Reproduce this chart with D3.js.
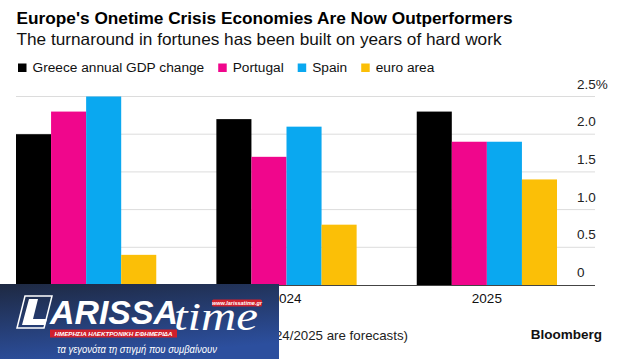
<!DOCTYPE html>
<html><head><meta charset="utf-8">
<script src="https://cdn.jsdelivr.net/npm/d3@7"></script>
<style>
html,body{margin:0;padding:0;background:#fff;}
svg{display:block;font-family:"Liberation Sans",Arial,sans-serif;}
</style></head>
<body>
<svg id="chart" width="622" height="359"></svg>
<script>
const categories = ["2023", "2024", "2025"];
const seriesNames = ["Greece annual GDP change", "Portugal", "Spain", "euro area"];
const greece = [2.0, 2.2, 2.3];
const portugal = [2.3, 1.7, 1.9];
const spain = [2.5, 2.1, 1.9];
const euroArea = [0.4, 0.8, 1.4];
const seriesValues = [greece, portugal, spain, euroArea];
const colors = ["#000000", "#f0068c", "#0aa8f0", "#fbbf07"];
const yTicks = [0, 0.5, 1.0, 1.5, 2.0, 2.5];
const yTickLabels = ["0", "0.5", "1.0", "1.5", "2.0", "2.5%"];
const titleText = "Europe's Onetime Crisis Economies Are Now Outperformers";
const subtitleText = "The turnaround in fortunes has been built on years of hard work";
const sourceText = "Source: European Commission (2024/2025 are forecasts)";

const svg = d3.select("#chart");

// Title & subtitle
svg.append("text").attr("x", 16.5).attr("y", 24)
  .attr("font-size", 17).attr("font-weight", "bold").attr("fill", "#000")
  .attr("textLength", 496).attr("lengthAdjust", "spacingAndGlyphs")
  .text(titleText);
svg.append("text").attr("x", 16.5).attr("y", 44.5)
  .attr("font-size", 16.5).attr("fill", "#111")
  .attr("textLength", 485).attr("lengthAdjust", "spacingAndGlyphs")
  .text(subtitleText);

// Legend
let lx = 18;
const legend = svg.append("g");
seriesNames.forEach((name, i) => {
  legend.append("rect").attr("x", lx).attr("y", 63.5).attr("width", 8.5).attr("height", 8.5).attr("fill", colors[i]);
  const t = legend.append("text").attr("x", lx + 14.5).attr("y", 72)
    .attr("font-size", 13.7).attr("fill", "#111").text(name);
  lx += 14.5 + t.node().getComputedTextLength() + 14;
});

// Scales
const y = d3.scaleLinear().domain([0, 2.5]).range([285, 96.5]);
const x0 = d3.scaleBand().domain(categories).range([16, 557]).paddingInner(0.3).paddingOuter(0);
const x1 = d3.scaleBand().domain(d3.range(seriesNames.length)).range([0, x0.bandwidth()]).padding(0);

// Gridlines
const grid = svg.append("g");
yTicks.forEach(v => {
  if (v === 0) return;
  grid.append("line").attr("x1", 16).attr("x2", 595).attr("y1", y(v)).attr("y2", y(v))
    .attr("stroke", "#dcdcdc").attr("stroke-width", 1);
});

// Y labels
const yAxis = d3.axisRight(y).tickValues(yTicks).tickSize(0).tickFormat((d, i) => yTickLabels[i]);
const yg = svg.append("g").attr("transform", "translate(577,0)").call(yAxis);
yg.select(".domain").remove();
yg.selectAll("text").attr("x", 0).attr("dy", "-0.62em").attr("text-anchor", "start")
  .attr("font-size", 13.5).attr("font-family", "Liberation Sans, Arial, sans-serif").attr("fill", "#222");

// Bars
const groups = svg.append("g").selectAll("g").data(categories).join("g")
  .attr("transform", d => `translate(${x0(d)},0)`);
groups.selectAll("rect").data((d, ci) => seriesValues.map((s, si) => ({si, v: s[ci]}))).join("rect")
  .attr("x", d => x1(d.si)).attr("width", x1.bandwidth())
  .attr("y", d => y(d.v)).attr("height", d => y(0) - y(d.v))
  .attr("fill", d => colors[d.si]);

// Baseline
svg.append("line").attr("x1", 16).attr("x2", 595).attr("y1", y(0) + 0.5).attr("y2", y(0) + 0.5)
  .attr("stroke", "#444").attr("stroke-width", 1);

// X axis labels
const xAxis = d3.axisBottom(x0).tickSize(0);
const xg = svg.append("g").attr("transform", `translate(0,${y(0)})`).call(xAxis);
xg.select(".domain").remove();
xg.selectAll("text").attr("y", 18).attr("dy", 0)
  .attr("font-size", 13.5).attr("font-family", "Liberation Sans, Arial, sans-serif").attr("fill", "#111");

// Footer
svg.append("text").attr("x", 408).attr("y", 340).attr("text-anchor", "end")
  .attr("font-size", 13.3).attr("fill", "#222").text(sourceText);
svg.append("text").attr("x", 602).attr("y", 339).attr("text-anchor", "end")
  .attr("font-size", 13.5).attr("font-weight", "bold").attr("fill", "#111").text("Bloomberg");

// Overlay logo (LARISSA time)
const defs = svg.append("defs");
const grad = defs.append("linearGradient").attr("id", "logoGrad").attr("x1", 0).attr("y1", 0).attr("x2", 0.3).attr("y2", 1);
grad.append("stop").attr("offset", "0%").attr("stop-color", "#1e2942");
grad.append("stop").attr("offset", "100%").attr("stop-color", "#2c4f9e");
const logo = svg.append("g");
logo.append("rect").attr("x", 0).attr("y", 284).attr("width", 279).attr("height", 75).attr("fill", "url(#logoGrad)");
// outlined box with italic L shape
logo.append("path").attr("d", "M25,296 L52,296 L44,328 L17,328 Z").attr("fill", "none").attr("stroke", "#fff").attr("stroke-width", 1.5);
logo.append("path").attr("d", "M29,299 L38,299 L33,319 L47,319 L45,325 L22,325 Z").attr("fill", "#fff");
logo.append("text").attr("x", 50).attr("y", 324).attr("font-size", 34).attr("font-weight", "bold")
  .attr("font-style", "italic").attr("fill", "#fff").attr("textLength", 128).attr("lengthAdjust", "spacingAndGlyphs").text("ARISSA");
logo.append("text").attr("x", 174).attr("y", 330).attr("font-size", 40).attr("font-style", "italic")
  .attr("font-family", "Liberation Serif, DejaVu Serif, serif").attr("fill", "#fff")
  .attr("textLength", 84).attr("lengthAdjust", "spacingAndGlyphs").text("time");
logo.append("rect").attr("x", 212).attr("y", 299.5).attr("width", 50).attr("height", 7).attr("rx", 1.5).attr("fill", "#d0202c");
logo.append("text").attr("x", 237).attr("y", 305.3).attr("text-anchor", "middle").attr("font-size", 5.5)
  .attr("font-weight", "bold").attr("font-style", "italic").attr("fill", "#fff").text("www.larissatime.gr");
logo.append("rect").attr("x", 50).attr("y", 329.5).attr("width", 127).attr("height", 8).attr("fill", "#d0202c");
logo.append("text").attr("x", 113.5).attr("y", 336).attr("text-anchor", "middle").attr("font-size", 6.2)
  .attr("font-weight", "bold").attr("font-style", "italic").attr("fill", "#fff")
  .attr("textLength", 118).attr("lengthAdjust", "spacingAndGlyphs").text("ΗΜΕΡΗΣΙΑ ΗΛΕΚΤΡΟΝΙΚΗ ΕΦΗΜΕΡΙΔΑ");
logo.append("text").attr("x", 137).attr("y", 353).attr("text-anchor", "middle").attr("font-size", 10.5)
  .attr("font-style", "italic").attr("fill", "#fff")
  .attr("textLength", 160).attr("lengthAdjust", "spacingAndGlyphs").text("τα γεγονότα τη στιγμή που συμβαίνουν");
</script>
</body></html>
